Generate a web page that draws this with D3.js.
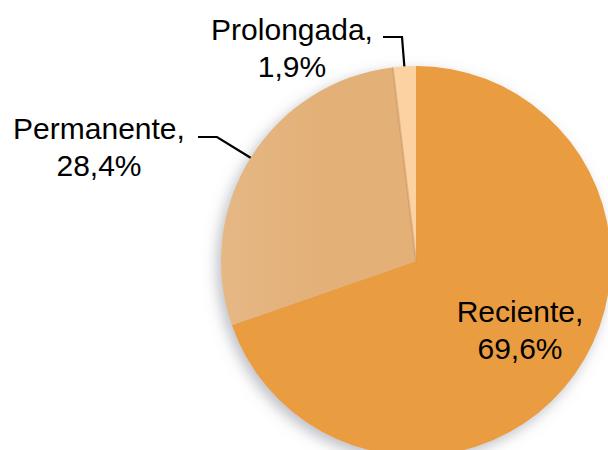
<!DOCTYPE html>
<html>
<head>
<meta charset="utf-8">
<script src="https://cdn.jsdelivr.net/npm/d3@7"></script>
<style>
    body { margin: 0; background: #fff; }
    svg { display: block; }
    text { font-family: Arial, "Liberation Sans", sans-serif; font-size: 30px; fill: #000; }
</style>
</head>
<body>
<div id="chart"></div>
<script>
const categories = ["Reciente", "Permanente", "Prolongada"]
const values = [69.6, 28.4, 1.9]
const colors = ["#EA9D3F", "#E3B078", "#FCD2A2"]

const width = 608, height = 450
const cx = 416, cy = 261, radius = 195

// where each label sits relative to the pie centre, and the leader elbow (if any)
const labelLayout = {
    "Reciente": { dx: 104, dy: 61, elbow: null },
    "Permanente": { dx: -317, dy: -122, elbow: [-218, -124, -199, -124] },
    "Prolongada": { dx: -124, dy: -221, elbow: [-33, -224, -14, -224] }
}

const data = categories.map((c, i) => ({ name: c, value: values[i] }))

const svg = d3.select("#chart")
    .append("svg")
    .attr("width", width)
    .attr("height", height)

const defs = svg.append("defs")
const shadow = defs.append("filter")
    .attr("id", "shadow")
    .attr("x", "-20%").attr("y", "-20%")
    .attr("width", "140%").attr("height", "140%")
shadow.append("feDropShadow")
    .attr("dx", -4).attr("dy", 5)
    .attr("stdDeviation", 7)
    .attr("flood-color", "#7a7f8a")
    .attr("flood-opacity", 0.5)

// slight sheen, only noticeable on the lighter slice
const sheen = defs.append("linearGradient")
    .attr("id", "sheen")
    .attr("gradientUnits", "userSpaceOnUse")
    .attr("x1", -radius).attr("y1", 0)
    .attr("x2", 0).attr("y2", 0)
sheen.append("stop").attr("offset", "0").attr("stop-color", "#fff").attr("stop-opacity", 0.1)
sheen.append("stop").attr("offset", "0.5").attr("stop-color", "#fff").attr("stop-opacity", 0)

const color = d3.scaleOrdinal().domain(categories).range(colors)

const pie = d3.pie()
    .value(d => d.value)
    .sort(null)

const arc = d3.arc()
    .innerRadius(0)
    .outerRadius(radius)

const arcs = pie(data)

const g = svg.append("g")
    .attr("transform", `translate(${cx},${cy})`)

g.append("g")
    .attr("filter", "url(#shadow)")
    .selectAll("path")
    .data(arcs)
    .enter().append("path")
    .attr("d", arc)
    .attr("fill", d => color(d.data.name))

g.append("g")
    .selectAll("path")
    .data(arcs.filter(d => d.data.name === "Permanente"))
    .enter().append("path")
    .attr("d", arc)
    .attr("fill", "url(#sheen)")

// soft darker edge on the permanente side of the small slice
g.selectAll(".edge")
    .data(arcs.filter(d => d.data.name === "Prolongada"))
    .enter().append("line")
    .attr("class", "edge")
    .attr("x1", 0).attr("y1", 0)
    .attr("x2", d => radius * Math.sin(d.startAngle))
    .attr("y2", d => -radius * Math.cos(d.startAngle))
    .attr("stroke", "#c18a4f")
    .attr("stroke-opacity", 0.4)
    .attr("stroke-width", 2)

// leader lines for outside labels
arcs.forEach(d => {
    const lay = labelLayout[d.data.name]
    if (!lay.elbow) return
    const mid = (d.startAngle + d.endAngle) / 2
    const ex = radius * Math.sin(mid), ey = -radius * Math.cos(mid)
    g.append("polyline")
        .attr("points", [[lay.elbow[0], lay.elbow[1]], [lay.elbow[2], lay.elbow[3]], [ex, ey]].join(" "))
        .attr("fill", "none")
        .attr("stroke", "#000")
        .attr("stroke-width", 2.2)
})

const labels = g.selectAll(".label")
    .data(arcs)
    .enter().append("text")
    .attr("class", "label")
    .attr("text-anchor", "middle")
    .attr("transform", d => {
        const lay = labelLayout[d.data.name]
        return `translate(${lay.dx},${lay.dy})`
    })

labels.append("tspan")
    .attr("x", 0)
    .attr("y", 0)
    .text(d => d.data.name + ",")

labels.append("tspan")
    .attr("x", 0)
    .attr("dy", 36.5)
    .text(d => d3.format(".1f")(d.data.value).replace(".", ",") + "%")
</script>
</body>
</html>
